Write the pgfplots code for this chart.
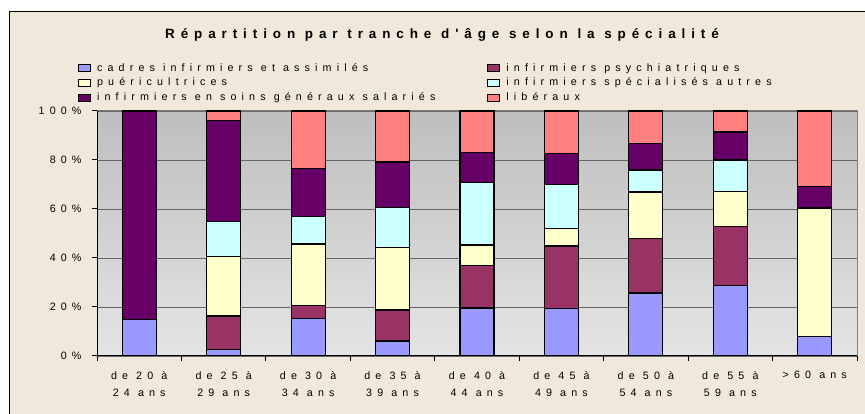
\documentclass[border=0pt]{standalone}
\usepackage{fontspec}
\setmainfont{Liberation Sans}
\newfontfamily\spaced[LetterSpace=48]{Liberation Sans}
\newfontfamily\spacedtitle[LetterSpace=44]{Liberation Sans}
\usepackage{pgfplots}
\pgfplotsset{compat=1.18}

\definecolor{cadres}{HTML}{9999FF}
\definecolor{psych}{HTML}{993366}
\definecolor{puer}{HTML}{FFFFCC}
\definecolor{specaut}{HTML}{CCFFFF}
\definecolor{gen}{HTML}{660066}
\definecolor{lib}{HTML}{FF8080}
\definecolor{beige}{HTML}{F0E8DA}
\definecolor{plottop}{HTML}{BEBEBE}
\definecolor{plotbot}{HTML}{E4E4E4}

\begin{document}
\begin{tikzpicture}
\useasboundingbox (0bp,0bp) rectangle (865bp,414bp);
\fill[white] (0bp,0bp) rectangle (865bp,414bp);
\fill[beige] (9bp,0bp) rectangle (865bp,402bp);
\draw[black, line width=1bp] (9bp,0bp) -- (9bp,402bp) -- (865bp,402bp);

\begin{axis}[
  at={(97bp,58bp)}, anchor=south west,
  scale only axis, width=760bp, height=245bp,
  ybar stacked, bar width=34bp,
  xmin=-0.5, xmax=8.5, ymin=0, ymax=100,
  axis background/.style={top color=plottop, bottom color=plotbot},
  axis line style={draw=black!50, line width=1bp},
  ymajorgrids, major grid style={black!60, line width=0.9bp},
  tick align=outside, tick pos=left, major tick length=5bp,
  tick style={black, line width=1bp},
  ytick={0,20,40,60,80,100},
  yticklabels={0\%,20\%,40\%,60\%,80\%,100\%},
  yticklabel style={xshift=-7bp},
  xtick={-0.5,0.5,...,8.5},
  xticklabels={},
  extra x ticks={0,1,2,3,4,5,6,7,8},
  extra x tick labels={{de 20 à\\24 ans},{de 25 à\\29 ans},{de 30 à\\34 ans},{de 35 à\\39 ans},{de 40 à\\44 ans},{de 45 à\\49 ans},{de 50 à\\54 ans},{de 55 à\\59 ans},{>60 ans}},
  extra x tick style={major tick length=0pt, xticklabel style={align=center, anchor=north, yshift=-12bp}},
  tick label style={font=\fontsize{10.75}{17}\spaced},
  legend columns=2,
  legend cell align=left,
  legend style={at={(-0.029,1.204)}, anchor=north west, draw=none, fill=none,
    font=\fontsize{10.75}{15}\spaced, row sep=4.2bp,
    nodes={inner sep=0pt, text height=8bp, text depth=2.5bp},
    /tikz/every odd column/.append style={column sep=6bp},
    /tikz/every even column/.append style={column sep=52bp}},
  legend image code/.code={\draw[#1, line width=1bp] (0bp,-3.5bp) rectangle (12bp,3.5bp);},
  every axis plot/.append style={draw=black, line width=1.2bp},
]
\addplot[fill=cadres] coordinates {(0,15.0) (1,2.7) (2,15.4) (3,6.1) (4,19.6) (5,19.3) (6,25.7) (7,28.7) (8,7.9)};
\addplot[fill=psych] coordinates {(0,0) (1,13.6) (2,5.3) (3,12.7) (4,17.5) (5,25.6) (6,22.2) (7,24.1) (8,0)};
\addplot[fill=puer] coordinates {(0,0) (1,24.2) (2,25.0) (3,25.4) (4,8.2) (5,7.1) (6,19.0) (7,14.3) (8,52.5)};
\addplot[fill=specaut] coordinates {(0,0) (1,14.3) (2,11.4) (3,16.4) (4,25.4) (5,17.9) (6,9.0) (7,12.9) (8,0)};
\addplot[fill=gen] coordinates {(0,85.0) (1,41.2) (2,19.4) (3,18.6) (4,12.3) (5,12.7) (6,10.9) (7,11.4) (8,8.9)};
\addplot[fill=lib] coordinates {(0,0) (1,4.0) (2,23.5) (3,20.8) (4,17.0) (5,17.4) (6,13.2) (7,8.6) (8,30.7)};
\legend{cadres infirmiers et assimilés, infirmiers psychiatriques, puéricultrices, infirmiers spécialisés autres, infirmiers en soins généraux salariés, libéraux}
\draw[black, line width=1bp] (rel axis cs:0,1) -- (rel axis cs:0,0) -- (rel axis cs:1,0);
\end{axis}

\node[font=\fontsize{13.5}{15}\bfseries\spacedtitle] at (442bp,379bp) {Répartition par tranche d'âge selon la spécialité};
\end{tikzpicture}
\end{document}
